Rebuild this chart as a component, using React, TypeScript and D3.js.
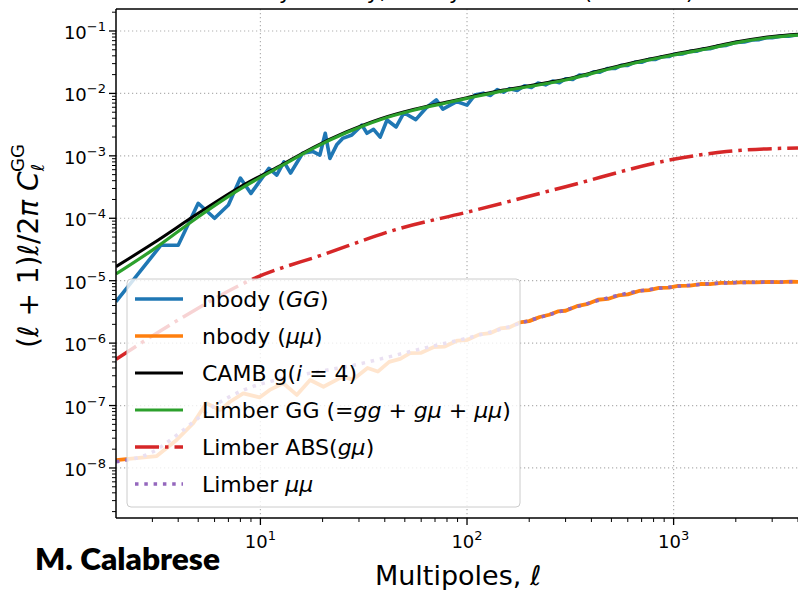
import React, { useEffect, useRef } from "react";
import * as d3 from "d3";

// nbody (GG): measured spectrum, noisy at low multipoles
const nbodyGGEll = [
  2, 3.3, 4, 5, 6, 7, 8, 9, 11, 12, 13, 14, 16, 18, 19.4, 20.6, 21.7, 23.4, 25, 27.7,
  31, 32.8, 35.3, 38, 41, 45.4, 49.5, 56.5, 63.5, 71, 76.4, 89, 100, 109,
  120, 130, 140, 150, 160, 175, 190, 205, 220, 240, 260, 280, 300, 325, 350, 380,
  410, 440, 480, 520, 560, 600, 650, 700, 760, 820, 880, 950, 1000, 1100, 1200,
  1300, 1400, 1500, 1650, 1800, 2000, 2200, 2400, 2600, 2800, 3000, 3300, 3600, 4000,
];
const nbodyGGVal = [
  4.6e-6, 3.7e-5, 3.7e-5, 1.74e-4, 1.0e-4, 1.63e-4, 4.4e-4, 2.5e-4, 6.3e-4, 4.9e-4,
  8.0e-4, 5.3e-4, 1.1e-3, 1.17e-3, 1.03e-3, 2.3e-3, 9.1e-4, 1.5e-3, 1.9e-3, 2.16e-3,
  3.1e-3, 2.3e-3, 2.66e-3, 2.0e-3, 3.75e-3, 2.9e-3, 4.9e-3, 3.8e-3, 5.9e-3, 7.9e-3,
  5.6e-3, 7.4e-3, 6.5e-3, 9.4e-3,
  0.01009, 0.00929, 0.01148, 0.01047, 0.01191, 0.01117, 0.01327, 0.01247, 0.01462,
  0.01371, 0.01578, 0.01486, 0.01718, 0.01675, 0.01977, 0.01932, 0.02228, 0.02183,
  0.02512, 0.025, 0.02831, 0.02805, 0.0317, 0.03162, 0.03516, 0.03508, 0.03873,
  0.03899, 0.04227, 0.04276, 0.04721, 0.04753, 0.05164, 0.05188, 0.05754, 0.05888,
  0.06577, 0.06683, 0.07194, 0.07278, 0.0778, 0.07834, 0.08279, 0.0826, 0.0869,
];

// nbody (mu mu)
const nbodyMuEll = [
  2, 3.15, 3.93, 4.73, 5.47, 6.39, 7.13, 8.26, 9.9, 11.1, 12.9, 15, 17.4, 20.2, 25,
  28, 33, 37, 42, 47.5, 53, 60, 68.7, 78, 90, 100, 115, 130, 145, 160, 180, 200, 225,
  250, 275, 300, 340, 380, 430, 480, 540, 600, 680, 760, 850, 950, 1050, 1200, 1350,
  1500, 1700, 1900, 2200, 2500, 2900, 3300, 3700, 4000,
];
const nbodyMuVal = [
  1.34e-8, 1.55e-8, 2.81e-8, 5.2e-8, 1.09e-7, 8.5e-8, 1.15e-7, 1.57e-7, 1.35e-7,
  1.78e-7, 2.28e-7, 1.48e-7, 2.57e-7, 2.0e-7, 2.9e-7, 2.6e-7, 4.0e-7, 3.5e-7, 5.0e-7,
  5.6e-7, 6.9e-7, 7.0e-7, 8.6e-7, 8.8e-7, 1.1e-6, 1.12e-6, 1.38e-6, 1.45e-6, 1.72e-6,
  1.78e-6, 2.15e-6, 2.25e-6, 2.62e-6, 2.85e-6, 3.22e-6, 3.3e-6, 3.9e-6, 4.2e-6,
  4.95e-6, 5.1e-6, 5.8e-6, 6.05e-6, 6.85e-6, 7.05e-6, 7.65e-6, 7.75e-6, 8.25e-6,
  8.35e-6, 8.85e-6, 8.8e-6, 9.25e-6, 9.2e-6, 9.45e-6, 9.4e-6, 9.6e-6, 9.5e-6, 9.65e-6,
  9.6e-6,
];

// CAMB g(i=4) and Limber GG share the same multipoles
const theoryEll = [
  2, 3, 5, 8, 12.5, 18, 26, 38, 55, 80, 100, 150, 200, 300, 500, 700, 1000, 1500,
  2000, 3000, 4000,
];
const cambVal = [
  1.68e-5, 3.9e-5, 1.2e-4, 3.2e-4, 7.0e-4, 1.36e-3, 2.41e-3, 3.91e-3, 5.53e-3,
  7.29e-3, 8.57e-3, 1.13e-2, 1.33e-2, 1.69e-2, 2.59e-2, 3.34e-2, 4.25e-2, 5.44e-2,
  6.65e-2, 8.18e-2, 8.87e-2,
];
const limberGGVal = [
  1.28e-5, 3.09e-5, 1.05e-4, 2.95e-4, 6.76e-4, 1.32e-3, 2.34e-3, 3.8e-3, 5.37e-3,
  7.08e-3, 8.32e-3, 1.1e-2, 1.29e-2, 1.64e-2, 2.51e-2, 3.24e-2, 4.13e-2, 5.28e-2,
  6.46e-2, 7.94e-2, 8.61e-2,
];

// Limber ABS(g mu)
const limberAbsEll = [2, 4, 9.4, 20, 47.5, 100, 300, 1000, 1800, 4000];
const limberAbsVal = [5.5e-7, 2.35e-6, 1.1e-5, 2.6e-5, 6.9e-5, 1.25e-4, 3.2e-4, 8.8e-4, 1.17e-3, 1.34e-3];

// Limber mu mu
const limberMuEll = [
  2, 3, 4, 5, 6, 7, 8.3, 11, 15, 20, 28, 40, 60, 100, 150, 200, 300, 440, 640, 1000,
  1650, 2500, 4000,
];
const limberMuVal = [
  1.26e-8, 1.8e-8, 3.5e-8, 6.3e-8, 1.0e-7, 1.35e-7, 1.78e-7, 2.4e-7, 3.0e-7, 3.6e-7,
  4.4e-7, 5.8e-7, 8.1e-7, 1.2e-6, 1.72e-6, 2.3e-6, 3.4e-6, 4.9e-6, 6.6e-6, 8.0e-6,
  9.1e-6, 9.45e-6, 9.6e-6,
];

const xMajor = [10, 100, 1000];
const xMajorExp = ["1", "2", "3"];
const yMajor = [1e-1, 1e-2, 1e-3, 1e-4, 1e-5, 1e-6, 1e-7, 1e-8];
const yMajorExp = ["−1", "−2", "−3", "−4", "−5", "−6", "−7", "−8"];

// legend text pieces: [text, italic]
const legendLabels: [string, boolean][][] = [
  [["nbody (", false], ["GG", true], [")", false]],
  [["nbody (", false], ["μμ", true], [")", false]],
  [["CAMB g(", false], ["i", true], [" = 4)", false]],
  [["Limber GG (=", false], ["gg", true], [" + ", false], ["gμ", true], [" + ", false], ["μμ", true], [")", false]],
  [["Limber ABS(", false], ["gμ", true], [")", false]],
  [["Limber ", false], ["μμ", true]],
];

const FONT = "DejaVu Sans, sans-serif";

const App: React.FC = () => {
  const ref = useRef<SVGSVGElement>(null);

  useEffect(() => {
    if (!ref.current) return;
    const svg = d3.select(ref.current);
    svg.selectAll("*").remove();

    const left = 116, right = 798, top = 9, bottom = 518;
    const x = d3.scaleLog().domain([2, 4000]).range([left, right]);
    const y = d3.scaleLog().domain([1.58e-9, 0.225]).range([bottom, top]);

    svg.append("rect").attr("width", 798).attr("height", 590).attr("fill", "white");

    // title: only its lower edge is inside the frame, as in the reference
    svg.append("text")
      .attr("x", 455).attr("y", -1)
      .attr("text-anchor", "middle")
      .attr("font-family", FONT).attr("font-size", 22)
      .text("Galaxy density, nbody vs Limber (bin i = 4)");

    svg.append("clipPath").attr("id", "plotclip")
      .append("rect").attr("x", left).attr("y", top)
      .attr("width", right - left).attr("height", bottom - top);

    // grid
    const grid = svg.append("g").attr("stroke", "#b0b0b0").attr("stroke-width", 1.2)
      .attr("stroke-dasharray", "1.2,2.8");
    xMajor.forEach((v) => {
      grid.append("line").attr("x1", x(v)).attr("x2", x(v)).attr("y1", top).attr("y2", bottom);
    });
    yMajor.forEach((v) => {
      grid.append("line").attr("x1", left).attr("x2", right).attr("y1", y(v)).attr("y2", y(v));
    });

    type Series = {
      ell: number[]; val: number[]; color: string; width: number;
      dash?: string; smooth: boolean;
    };
    const series: Series[] = [
      { ell: nbodyGGEll, val: nbodyGGVal, color: "#1f77b4", width: 3.6, smooth: false },
      { ell: nbodyMuEll, val: nbodyMuVal, color: "#ff7f0e", width: 3.8, smooth: false },
      { ell: theoryEll, val: cambVal, color: "#000000", width: 3, smooth: true },
      { ell: theoryEll, val: limberGGVal, color: "#2ca02c", width: 3.2, smooth: true },
      { ell: limberAbsEll, val: limberAbsVal, color: "#d62728", width: 3.5, dash: "24,6,3.5,6", smooth: true },
      { ell: limberMuEll, val: limberMuVal, color: "#9467bd", width: 3.5, dash: "3.5,5.8", smooth: true },
    ];

    const plot = svg.append("g").attr("clip-path", "url(#plotclip)");
    series.forEach((s) => {
      const pts: [number, number][] = s.ell.map((l, i) => [l, s.val[i]]);
      const line = d3.line<[number, number]>()
        .x((d) => x(d[0]))
        .y((d) => y(d[1]))
        .curve(s.smooth ? d3.curveMonotoneX : d3.curveLinear);
      plot.append("path")
        .datum(pts)
        .attr("d", line)
        .attr("fill", "none")
        .attr("stroke", s.color)
        .attr("stroke-width", s.width)
        .attr("stroke-linejoin", "round")
        .attr("stroke-dasharray", s.dash ?? null);
    });

    // legend
    const lg = svg.append("g");
    lg.append("rect")
      .attr("x", 127).attr("y", 279).attr("width", 393).attr("height", 228)
      .attr("rx", 4)
      .attr("fill", "white").attr("fill-opacity", 0.8)
      .attr("stroke", "#cccccc").attr("stroke-width", 1);
    legendLabels.forEach((parts, i) => {
      const s = series[i];
      const cy = 299 + i * 37;
      lg.append("line")
        .attr("x1", 135).attr("x2", 183).attr("y1", cy).attr("y2", cy)
        .attr("stroke", s.color).attr("stroke-width", Math.min(s.width, 3.5))
        .attr("stroke-dasharray", s.dash ?? null);
      const t = lg.append("text")
        .attr("x", 202).attr("y", cy + 8)
        .attr("font-family", FONT).attr("font-size", 22).attr("fill", "#000");
      parts.forEach(([str, it]) => {
        t.append("tspan").attr("font-style", it ? "italic" : "normal").text(str);
      });
    });

    // spines
    const ax = svg.append("g").attr("stroke", "#000");
    ax.append("line").attr("x1", left).attr("x2", left).attr("y1", top).attr("y2", bottom).attr("stroke-width", 1.5);
    ax.append("line").attr("x1", left).attr("x2", 800).attr("y1", bottom).attr("y2", bottom).attr("stroke-width", 1.5);
    ax.append("line").attr("x1", left).attr("x2", 800).attr("y1", top).attr("y2", top).attr("stroke-width", 1.5);

    // ticks
    const minorX: number[] = [];
    for (let k = 0; k <= 3; k++) {
      for (let m = 2; m <= 9; m++) {
        const v = m * Math.pow(10, k);
        if (v > 2 && v <= 4000) minorX.push(v);
      }
    }
    const minorY: number[] = [];
    for (let k = -9; k <= -1; k++) {
      for (let m = 2; m <= 9; m++) {
        const v = m * Math.pow(10, k);
        if (v >= 1.58e-9 && v <= 0.225) minorY.push(v);
      }
    }
    minorX.forEach((v) => {
      ax.append("line").attr("x1", x(v)).attr("x2", x(v)).attr("y1", bottom).attr("y2", bottom + 4).attr("stroke-width", 1);
    });
    xMajor.forEach((v) => {
      ax.append("line").attr("x1", x(v)).attr("x2", x(v)).attr("y1", bottom).attr("y2", bottom + 7).attr("stroke-width", 1.3);
    });
    minorY.forEach((v) => {
      ax.append("line").attr("x1", left - 4).attr("x2", left).attr("y1", y(v)).attr("y2", y(v)).attr("stroke-width", 1);
    });
    yMajor.forEach((v) => {
      ax.append("line").attr("x1", left - 7).attr("x2", left).attr("y1", y(v)).attr("y2", y(v)).attr("stroke-width", 1.3);
    });

    // tick labels
    yMajor.forEach((v, i) => {
      const t = svg.append("text")
        .attr("x", 106).attr("y", y(v) + 8)
        .attr("text-anchor", "end")
        .attr("font-family", FONT).attr("font-size", 18);
      t.append("tspan").text("10");
      t.append("tspan").attr("font-size", 13).attr("dy", -8).text(yMajorExp[i]);
    });
    xMajor.forEach((v, i) => {
      const t = svg.append("text")
        .attr("x", x(v)).attr("y", 548)
        .attr("text-anchor", "middle")
        .attr("font-family", FONT).attr("font-size", 18);
      t.append("tspan").text("10");
      t.append("tspan").attr("font-size", 13).attr("dy", -8).text(xMajorExp[i]);
    });

    // axis labels
    const xl = svg.append("text")
      .attr("x", 458).attr("y", 585)
      .attr("text-anchor", "middle")
      .attr("font-family", FONT).attr("font-size", 27);
    xl.append("tspan").text("Multipoles, ");
    xl.append("tspan").attr("font-style", "italic").text("ℓ");

    const yl = svg.append("text")
      .attr("transform", "translate(38,246) rotate(-90)")
      .attr("text-anchor", "middle")
      .attr("font-family", FONT).attr("font-size", 28);
    yl.append("tspan").text("(");
    yl.append("tspan").attr("font-style", "italic").text("ℓ");
    yl.append("tspan").text(" + 1)");
    yl.append("tspan").attr("font-style", "italic").text("ℓ");
    yl.append("tspan").text("/2");
    yl.append("tspan").attr("font-style", "italic").text("π C");
    yl.append("tspan").attr("font-style", "italic").attr("font-size", 18).attr("dy", 6).text("ℓ");
    yl.append("tspan").attr("font-size", 18).attr("dx", -8).attr("dy", -20).text("GG");

    // author watermark
    svg.append("text")
      .attr("x", 35).attr("y", 570)
      .attr("font-family", "Lato, sans-serif").attr("font-weight", 800)
      .attr("font-size", 30)
      .attr("textLength", 185).attr("lengthAdjust", "spacingAndGlyphs")
      .text("M. Calabrese");
  }, []);

  return (
    <svg
      ref={ref}
      width={798}
      height={590}
      style={{ position: "absolute", left: 0, top: 0, display: "block" }}
    />
  );
};

export default App;
